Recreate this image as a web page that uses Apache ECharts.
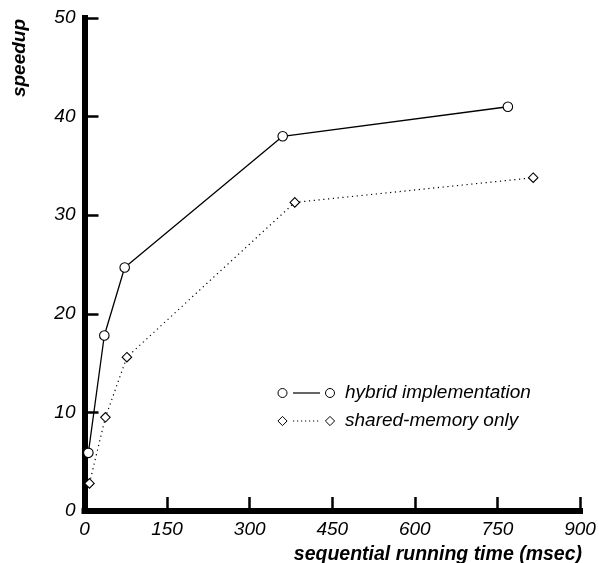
<!DOCTYPE html>
<html>
<head>
<meta charset="utf-8">
<script src="https://cdn.jsdelivr.net/npm/echarts@6/dist/echarts.min.js"></script>
<style>
  html, body { margin: 0; padding: 0; background: #fff; }
  #chart { width: 599px; height: 563px; }
</style>
</head>
<body>
<div id="chart"></div>
<script>
// sequential running time (msec) vs speedup
const hybridTime = [7, 36, 73, 360, 769]
const hybridSpeedup = [5.9, 17.8, 24.7, 38.0, 41.0]
const sharedTime = [9, 38, 77, 382, 815]
const sharedSpeedup = [2.8, 9.5, 15.6, 31.3, 33.8]

const xTicks = { min: 0, max: 900, interval: 150 }
const yTicks = { min: 0, max: 50, interval: 10 }
const legendNames = ['hybrid implementation', 'shared-memory only']

const FONT = '"Liberation Sans", Arial, sans-serif'

const chart = echarts.init(document.getElementById('chart'), null, { renderer: 'canvas' })

function axisBase() {
  return {
    type: 'value',
    axisLine: { show: true, onZero: false, lineStyle: { color: '#000', width: 6, cap: 'square' } },
    axisTick: { show: true, inside: true, length: 14, lineStyle: { color: '#000', width: 2.5 } },
    axisLabel: { color: '#000', fontSize: 19, fontStyle: 'italic', fontFamily: FONT, margin: 9 },
    splitLine: { show: false }
  }
}

const legendItem = (y, symbol, dash, name) => ({
  type: 'group',
  children: [
    {
      type: 'line',
      shape: { x1: 293, y1: y, x2: 320, y2: y },
      style: { stroke: '#000', lineWidth: dash ? 1 : 1.2, lineDash: dash || null }
    },
    symbol(282.5, y),
    symbol(330, y),
    {
      type: 'text',
      x: 345, y: y,
      style: { text: name, fill: '#000', font: 'italic 19px ' + FONT, textVerticalAlign: 'middle', textAlign: 'left' }
    }
  ]
})

const circleAt = (x, y) => ({
  type: 'circle', shape: { cx: x, cy: y, r: 4.5 },
  style: { fill: '#fff', stroke: '#000', lineWidth: 1 }
})
const diamondAt = (x, y) => ({
  type: 'polygon', shape: { points: [[x, y - 4.6], [x + 4.6, y], [x, y + 4.6], [x - 4.6, y]] },
  style: { fill: '#fff', stroke: '#000', lineWidth: 1 }
})

chart.setOption({
  animation: false,
  backgroundColor: '#fff',
  grid: { left: 84.5, right: 19, top: 18, bottom: 52, containLabel: false },
  xAxis: Object.assign(axisBase(), xTicks),
  yAxis: Object.assign(axisBase(), yTicks),
  series: [
    {
      name: legendNames[0],
      type: 'line',
      data: hybridTime.map((t, i) => [t, hybridSpeedup[i]]),
      symbol: 'circle',
      symbolSize: 9.5,
      itemStyle: { color: '#fff', borderColor: '#000', borderWidth: 1.1 },
      lineStyle: { color: '#000', width: 1.3 },
      z: 3
    },
    {
      name: legendNames[1],
      type: 'line',
      data: sharedTime.map((t, i) => [t, sharedSpeedup[i]]),
      symbol: 'diamond',
      symbolSize: 9.5,
      itemStyle: { color: '#fff', borderColor: '#000', borderWidth: 1.1 },
      lineStyle: { color: '#000', width: 1.2, type: [1.2, 3.6] },
      z: 2
    }
  ],
  graphic: [
    {
      type: 'text',
      x: 20, y: 58,
      rotation: Math.PI / 2,
      style: { text: 'speedup', fill: '#000', font: 'italic bold 19px ' + FONT, textAlign: 'center', textVerticalAlign: 'middle' }
    },
    {
      type: 'text',
      x: 582, y: 555,
      style: { text: 'sequential running time (msec)', fill: '#000', font: 'italic bold 19.5px ' + FONT, textAlign: 'right', textVerticalAlign: 'middle' }
    },
    legendItem(393, circleAt, null, legendNames[0]),
    legendItem(421, diamondAt, [1.2, 2.8], legendNames[1])
  ]
})
</script>
</body>
</html>
